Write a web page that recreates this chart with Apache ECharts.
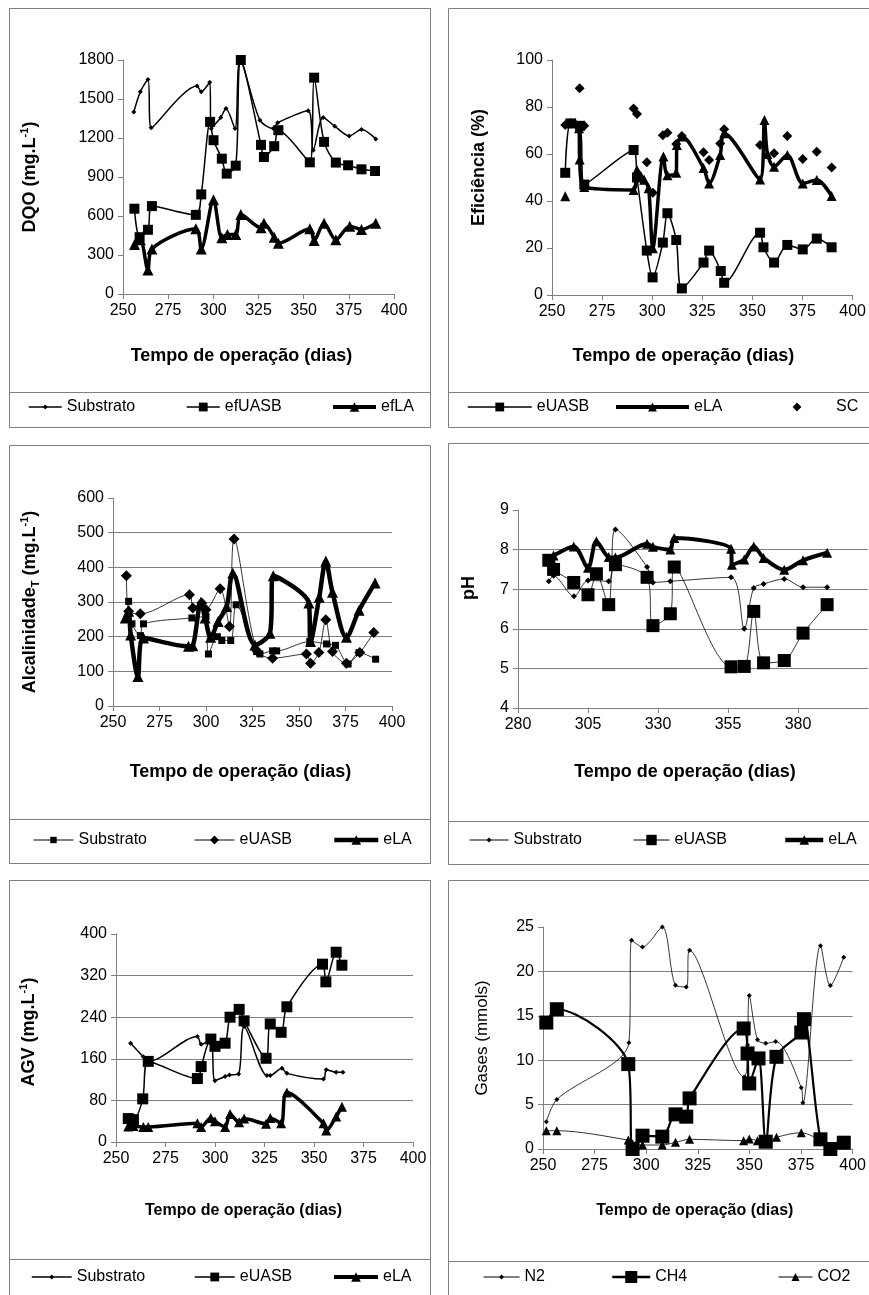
<!DOCTYPE html>
<html><head><meta charset="utf-8">
<script src="https://cdn.jsdelivr.net/npm/echarts@6/dist/echarts.min.js"></script>
<style>html,body{margin:0;padding:0;background:#fff}#c{width:869px;height:1295px}</style>
</head><body><div id="c"></div>
<script>
const FONT = '"Liberation Sans", Arial, Helvetica, sans-serif';

// ---------- Panel 1: DQO ----------
const p1SubDays = [256, 259.6, 263.8, 265.6, 291, 293.3, 298, 298.8, 304.1, 307, 312, 314.8, 325.8, 333.2, 335.6, 352.5, 355.3, 360.8, 367.2, 375.2, 382, 389.9];
const p1SubVals = [1400, 1556, 1650, 1278, 1600, 1556, 1628, 1273, 1358, 1427, 1273, 1800, 1337, 1273, 1317, 1409, 1106, 1358, 1291, 1216, 1265, 1193];
const p1UasbDays = [256.3, 259.2, 263.8, 266, 290.3, 293.3, 298.2, 300.1, 304.7, 307.4, 312.4, 315.2, 326.4, 328, 333.7, 336, 353.4, 355.8, 361.3, 367.8, 374.6, 382, 389.5];
const p1UasbVals = [656, 437, 494, 676, 609, 766, 1324, 1183, 1041, 926, 987, 1800, 1147, 1054, 1137, 1260, 1013, 1664, 1170, 1011, 990, 959, 946];
const p1LaDays = [256.4, 259.6, 263.8, 266, 290.3, 293.3, 300.1, 304.7, 307.8, 312.4, 315.2, 326.4, 328, 333.7, 336, 353.4, 355.8, 361.3, 367.8, 375.5, 382, 389.9];
const p1LaVals = [381, 417, 185, 347, 501, 347, 725, 432, 458, 458, 612, 509, 545, 437, 391, 501, 411, 545, 417, 522, 496, 545];

// ---------- Panel 2: Eficiência ----------
const p2UasbDays = [256.6, 259.2, 264, 266.1, 290.7, 292.4, 297.3, 300.2, 305.3, 307.6, 312, 314.8, 325.6, 328.4, 334.2, 335.9, 353.8, 355.5, 360.8, 367.4, 375.1, 382.1, 389.5];
const p2UasbVals = [52, 73, 72, 47, 61.7, 50, 18.9, 7.5, 22.3, 34.8, 23.4, 2.8, 13.8, 18.9, 10.2, 5.2, 26.5, 20.3, 13.8, 21.3, 19.4, 24, 20.3];
const p2LaDays = [256.6, 258, 259.1, 261.6, 263.5, 263.8, 266.1, 290.7, 292.4, 296, 298.2, 300.3, 305.6, 307.6, 312, 312.3, 314.8, 325.6, 328.4, 333.9, 335.9, 353.8, 356, 357.5, 360.8, 367.4, 375.1, 382.1, 389.5];
const p2LaVals = [42, null, 73.3, 73.3, 71, 57.7, 46, 44.7, 53.2, 49, 45.4, 19.9, 58.9, 51, 52, 63.8, 67.4, 54, 47.5, 59.6, 68.8, 49.2, 74.5, 60, 54.6, 59.6, 47.5, 48.9, 42.1];
const p2ScDays = [256.6, 259.2, 263.3, 263.8, 266.1, 290.7, 292.4, 297.3, 300.3, 305.3, 307.6, 312, 314.8, 325.6, 328.4, 333.9, 335.9, 353.8, 360.8, 367.4, 375.1, 382.1, 389.5];
const p2ScVals = [72.3, 73, 71.5, 88, 72, 79.4, 77, 56.5, 43.5, 68, 69, 64.3, 67.7, 60.7, 57.4, 64.5, 70.5, 63.8, 60.3, 67.7, 57.9, 61, 54.3];

// ---------- Panel 3: Alcalinidade ----------
const p3SubDays = [258.4, 260.2, 264.7, 266.4, 292.4, 300, 301.3, 306.1, 308.5, 313.3, 316.2, 327.2, 329, 335.8, 338, 355.8, 364.8, 369.6, 376.4, 382.3, 391.2];
const p3SubVals = [302, 237, 203, 237, 254, 258, 150, 200, 189, 189, 292, 157, 150, 159, 159, 186, 179, 175, 121, 154, 135];
const p3UasbDays = [257.2, 258.4, 264.7, 291.1, 292.9, 297.7, 300, 307.6, 312.6, 315.1, 327.2, 335.8, 354, 356.2, 360.7, 364.4, 368, 375.5, 382.7, 390.2];
const p3UasbVals = [376, 273, 266, 321, 283, 297, 278, 338, 229, 482, 160, 138, 150, 123, 154, 249, 157, 123, 154, 212];
const p3LaDays = [256.6, 258.4, 259.5, 263.4, 266.4, 290.6, 292.9, 297.2, 299.5, 302.5, 306.5, 311.1, 314.4, 326.3, 334.4, 336.2, 355.3, 356.2, 360.9, 364.4, 368, 375.5, 382.3, 390.9];
const p3LaVals = [254, 273, 205, 85, 196, 172, 174, 299, 254, 198, 244, 287, 384, 176, 210, 376, 297, 186, 314, 418, 328, 198, 276, 355];

// ---------- Panel 4: pH ----------
const p4XTicks = [280, 305, 330, 355, 380];
const p4SubDays = [291, 292.7, 300, 305, 312.4, 314.8, 326.1, 328.2, 334.4, 356.1, 360.8, 364.2, 367.7, 375.1, 381.8, 390.4];
const p4SubVals = [7.2, 7.34, 6.82, 7.22, 7.2, 8.51, 7.56, 7.17, 7.2, 7.3, 6.0, 7.03, 7.13, 7.26, 7.05, 7.05];
const p4UasbDays = [291, 292.7, 299.9, 305, 308, 312.4, 314.8, 326.1, 328.2, 334.4, 335.8, 356.1, 360.8, 364.2, 367.7, 375.1, 381.8, 390.4];
const p4UasbVals = [7.73, 7.5, 7.17, 6.86, 7.39, 6.61, 7.62, 7.3, 6.08, 6.38, 7.56, 5.04, 5.05, 6.44, 5.14, 5.2, 5.89, 6.61];
const p4LaDays = [291, 292.7, 299.9, 305, 308, 312.4, 314.8, 326.1, 328.2, 334.4, 335.8, 356.1, 356.4, 360.8, 364.2, 367.7, 375.1, 381.8, 390.4];
const p4LaVals = [7.76, 7.85, 8.08, 7.54, 8.21, 7.81, 7.8, 8.15, 8.07, 8.0, 8.29, 8.02, 7.62, 7.75, 8.08, 7.79, 7.49, 7.73, 7.92];

// ---------- Panel 5: AGV ----------
const p5SubDays = [257.4, 263.8, 266.3, 291.1, 293, 297.9, 300, 305.1, 307.3, 311.9, 314.7, 326.2, 327.9, 333.8, 336.3, 354.8, 356.2, 361.2, 364.6];
const p5SubVals = [190, 164, 155, 203, 188, 195, 118, 126, 129, 131, 222, 128, 128, 142, 132, 121, 139, 134, 134];
const p5UasbDays = [256.2, 258.8, 263.5, 266.3, 291.1, 293, 297.9, 300, 305.1, 307.6, 312.2, 314.7, 325.8, 327.9, 333.4, 336.3, 354.3, 356, 361.2, 364.1];
const p5UasbVals = [45, 43, 83, 155, 122, 145, 198, 184, 190, 240, 255, 233, 161, 227, 211, 260, 342, 308, 365, 340];
const p5LaDays = [256.2, 258.8, 263.8, 266.3, 291.1, 293, 297.9, 300, 305.1, 307.6, 312.2, 314.7, 325.8, 327.9, 333.4, 336.3, 354.8, 356.2, 361.2, 364.1];
const p5LaVals = [30, 31, 29, 29, 36, 29, 46, 40, 29, 54, 38, 45, 35, 46, 36, 95, 36, 22, 49, 68];

// ---------- Panel 6: Gases ----------
const p6N2Days = [251.6, 256.7, 291.6, 292.9, 298.2, 307.8, 314.2, 319.4, 321, 347.5, 349.1, 349.9, 353.9, 357.9, 362.7, 375.1, 375.9, 384.4, 389.2, 395.7];
const p6N2Vals = [3.07, 5.58, 11.96, 23.5, 22.75, 25.0, 18.44, 18.25, 22.38, 8.1, 11.7, 17.3, 12.3, 11.9, 12.1, 6.9, 5.2, 22.9, 18.4, 21.6];
const p6Ch4Days = [251.6, 256.7, 291.3, 293.4, 298.2, 307.8, 314.2, 319.4, 321, 347.2, 349.1, 349.9, 354.4, 357.9, 363.1, 375.1, 376.4, 384.4, 389.2, 395.7];
const p6Ch4Vals = [14.24, 15.74, 9.56, 0, 1.5, 1.39, 3.9, 3.64, 5.7, 13.57, 10.76, 7.38, 10.2, 0.82, 10.38, 13.12, 14.62, 1.09, 0, 0.71];
const p6Co2Days = [251.6, 256.7, 291.3, 293.4, 298.2, 307.8, 314.2, 321, 347.2, 349.9, 353.9, 357.9, 363.1, 375.1, 384.4];
const p6Co2Vals = [2.06, 2.06, 1.0, 0.6, 0.45, 0.45, 0.75, 1.09, 0.94, 1.12, 0.94, 0.64, 1.31, 1.84, 1.0];

function pairs(d, v) { return d.map((x, i) => [x, v[i] === null ? '-' : v[i]]); }

function ln(name, gi, days, vals, sym, size, width, smooth, hideLine) {
  return {
    type: 'line', name, xAxisIndex: gi, yAxisIndex: gi,
    data: pairs(days, vals), symbol: sym, symbolSize: size, showAllSymbol: true,
    smooth: smooth === undefined ? 0.3 : smooth, connectNulls: false,
    lineStyle: hideLine ? {color: '#000', width: 0, opacity: 0} : {color: '#000', width},
    itemStyle: {color: '#000'}, emphasis: {disabled: true}
  };
}

const GRAY = '#808080';
const plain = v => String(v);
function xAx(gi, min, max, name, gap, padR, fs, extra) {
  return Object.assign({
    type: 'value', gridIndex: gi, min, max, interval: 25,
    name, nameLocation: 'middle', nameGap: gap,
    nameTextStyle: {fontSize: fs, fontWeight: 'bold', color: '#000', fontFamily: FONT, padding: [0, padR, 0, 0]},
    axisLine: {show: true, onZero: false, lineStyle: {color: GRAY, width: 1}},
    axisTick: {show: true, length: 5, lineStyle: {color: GRAY}},
    axisLabel: {fontSize: 16, color: '#000', margin: 9, fontFamily: FONT, formatter: plain},
    splitLine: {show: false}
  }, extra || {});
}
function richStyle(fs, weight) {
  return {
    b: {fontSize: fs, fontWeight: weight, color: '#000', fontFamily: FONT, lineHeight: 22},
    sup: {fontSize: 11, fontWeight: weight, color: '#000', fontFamily: FONT, verticalAlign: 'top', lineHeight: 12},
    sub: {fontSize: 11, fontWeight: weight, color: '#000', fontFamily: FONT, verticalAlign: 'bottom', lineHeight: 12}
  };
}
function yAx(gi, min, max, interval, name, gap, split, fs, weight, padL) {
  return {
    type: 'value', gridIndex: gi, min, max, interval,
    name, nameLocation: 'middle', nameGap: gap, nameRotate: 90,
    nameTextStyle: {fontSize: fs, fontWeight: weight, color: '#000', fontFamily: FONT, rich: richStyle(fs, weight), padding: [0, 0, 0, padL || 0]},
    axisLine: {show: true, lineStyle: {color: GRAY, width: 1}},
    axisTick: {show: true, length: 5, lineStyle: {color: GRAY}},
    axisLabel: {fontSize: 16, color: '#000', margin: 9, fontFamily: FONT, formatter: plain},
    splitLine: {show: split, showMaxLine: false, lineStyle: {color: GRAY, width: 1}}
  };
}

function lg(name, left, top, w, h, lw) {
  return {
    data: [name], left, top, itemWidth: w, itemHeight: h, selectedMode: false, padding: 0,
    formatter: n => n.split('_')[1],
    lineStyle: lw === 0 ? {width: 0, opacity: 0} : {width: lw, color: '#000'},
    textStyle: {fontSize: 16, color: '#000', fontFamily: FONT, lineHeight: 18}
  };
}

const option = {
  animation: false,
  backgroundColor: '#fff',
  textStyle: {fontFamily: FONT},
  grid: [
    {left: 123, top: 60, width: 271, height: 234},
    {left: 552, top: 60, width: 301, height: 235},
    {left: 113, top: 498, width: 279, height: 208},
    {left: 518, top: 510, width: 350, height: 198},
    {left: 116, top: 934, width: 297, height: 208},
    {left: 543, top: 927, width: 311, height: 222}
  ],
  xAxis: [
    xAx(0, 250, 400, 'Tempo de operação (dias)', 53, 34, 18),
    xAx(1, 250, 400, 'Tempo de operação (dias)', 52, 38, 18),
    xAx(2, 250, 400, 'Tempo de operação (dias)', 57, 24, 18),
    xAx(3, 280, 405, 'Tempo de operação (dias)', 55, 16, 18, {
      axisLabel: {fontSize: 16, color: '#000', margin: 9, fontFamily: FONT, customValues: p4XTicks, formatter: plain},
      axisTick: {show: true, length: 5, lineStyle: {color: GRAY}, customValues: p4XTicks}
    }),
    xAx(4, 250, 400, 'Tempo de operação (dias)', 61, 42, 16),
    xAx(5, 250, 400, 'Tempo de operação (dias)', 54, 6, 16)
  ],
  yAxis: [
    yAx(0, 0, 1800, 300, '{b|DQO (mg.L}{sup|-1}{b|)}', 82, false, 18, 'bold'),
    yAx(1, 0, 100, 20, 'Eficiência (%)', 64, false, 18, 'bold', 20),
    yAx(2, 0, 600, 100, '{b|Alcalinidade}{sub|T}{b| (mg.L}{sup|-1}{b|)}', 72, true, 18, 'bold'),
    yAx(3, 4, 9, 1, 'pH', 40, true, 18, 'bold', 42),
    yAx(4, 0, 400, 80, '{b|AGV (mg.L}{sup|-1}{b|)}', 76, true, 18, 'bold', 12),
    yAx(5, 0, 25, 5, 'Gases (mmols)', 52, true, 17, 'normal')
  ],
  legend: [
    lg('p1_Substrato', 28, 398, 33, 6, 1.5),
    lg('p1_efUASB', 186, 398, 33, 11, 1.5),
    lg('p1_efLA', 331, 398, 43, 12, 4),
    lg('p2_eUASB', 467, 398, 64, 11, 1.5),
    lg('p2_eLA', 614, 398, 73, 11, 4),
    lg('p2_SC', 763, 398, 68, 11, 0),
    lg('p3_Substrato', 33, 831, 40, 8, 1),
    lg('p3_eUASB', 194, 831, 40, 11, 1),
    lg('p3_eLA', 332, 831, 44, 12, 4.5),
    lg('p4_Substrato', 469, 831, 39, 6, 1),
    lg('p4_eUASB', 633, 831, 36, 13, 1),
    lg('p4_eLA', 783, 831, 38, 12, 4.5),
    lg('p5_Substrato', 31, 1268, 40, 6, 1.5),
    lg('p5_eUASB', 194, 1268, 40, 11, 1.5),
    lg('p5_eLA', 332, 1268, 44, 12, 4),
    lg('p6_N2', 483, 1268, 36, 6, 1),
    lg('p6_CH4', 611, 1268, 38, 15, 2.5),
    lg('p6_CO2', 778, 1268, 34, 10, 1)
  ],
  graphic: [
    {type: 'rect', silent: true, shape: {x: 9.5, y: 8.5, width: 421, height: 419}, style: {fill: 'none', stroke: GRAY, lineWidth: 1}},
    {type: 'line', silent: true, shape: {x1: 9.5, y1: 392.5, x2: 430.5, y2: 392.5}, style: {stroke: GRAY, lineWidth: 1}},
    {type: 'rect', silent: true, shape: {x: 448.5, y: 8.5, width: 440, height: 419}, style: {fill: 'none', stroke: GRAY, lineWidth: 1}},
    {type: 'line', silent: true, shape: {x1: 448.5, y1: 392.5, x2: 869, y2: 392.5}, style: {stroke: GRAY, lineWidth: 1}},
    {type: 'rect', silent: true, shape: {x: 9.5, y: 445.5, width: 421, height: 418}, style: {fill: 'none', stroke: GRAY, lineWidth: 1}},
    {type: 'line', silent: true, shape: {x1: 9.5, y1: 819.5, x2: 430.5, y2: 819.5}, style: {stroke: GRAY, lineWidth: 1}},
    {type: 'rect', silent: true, shape: {x: 448.5, y: 443.5, width: 440, height: 421}, style: {fill: 'none', stroke: GRAY, lineWidth: 1}},
    {type: 'line', silent: true, shape: {x1: 448.5, y1: 821.5, x2: 869, y2: 821.5}, style: {stroke: GRAY, lineWidth: 1}},
    {type: 'rect', silent: true, shape: {x: 9.5, y: 880.5, width: 421, height: 440}, style: {fill: 'none', stroke: GRAY, lineWidth: 1}},
    {type: 'line', silent: true, shape: {x1: 9.5, y1: 1259.5, x2: 430.5, y2: 1259.5}, style: {stroke: GRAY, lineWidth: 1}},
    {type: 'rect', silent: true, shape: {x: 448.5, y: 880.5, width: 440, height: 440}, style: {fill: 'none', stroke: GRAY, lineWidth: 1}},
    {type: 'line', silent: true, shape: {x1: 448.5, y1: 1261.5, x2: 869, y2: 1261.5}, style: {stroke: GRAY, lineWidth: 1}}
  ],
  series: [
    ln('p1_Substrato', 0, p1SubDays, p1SubVals, 'diamond', 5, 1.5),
    ln('p1_efUASB', 0, p1UasbDays, p1UasbVals, 'rect', 10, 1.5),
    ln('p1_efLA', 0, p1LaDays, p1LaVals, 'triangle', 11, 3.5),

    ln('p2_eUASB', 1, p2UasbDays, p2UasbVals, 'rect', 10, 1.5),
    ln('p2_eLA', 1, p2LaDays, p2LaVals, 'triangle', 10, 3.5),
    ln('p2_SC', 1, p2ScDays, p2ScVals, 'diamond', 10, 0, 0, true),

    ln('p3_Substrato', 2, p3SubDays, p3SubVals, 'rect', 7, 0.8),
    ln('p3_eUASB', 2, p3UasbDays, p3UasbVals, 'diamond', 11, 0.8),
    ln('p3_eLA', 2, p3LaDays, p3LaVals, 'triangle', 11, 4.5),

    ln('p4_Substrato', 3, p4SubDays, p4SubVals, 'diamond', 6, 0.8),
    ln('p4_eUASB', 3, p4UasbDays, p4UasbVals, 'rect', 13, 0.8),
    ln('p4_eLA', 3, p4LaDays, p4LaVals, 'triangle', 10, 4),

    ln('p5_Substrato', 4, p5SubDays, p5SubVals, 'diamond', 5, 1.5),
    ln('p5_eUASB', 4, p5UasbDays, p5UasbVals, 'rect', 11, 1.5),
    ln('p5_eLA', 4, p5LaDays, p5LaVals, 'triangle', 10, 3.5),

    ln('p6_N2', 5, p6N2Days, p6N2Vals, 'diamond', 5, 0.8),
    ln('p6_CH4', 5, p6Ch4Days, p6Ch4Vals, 'rect', 14, 2.2),
    ln('p6_CO2', 5, p6Co2Days, p6Co2Vals, 'triangle', 9, 0.8)
  ]
};

const chart = echarts.init(document.getElementById('c'), null, {renderer: 'canvas'});
chart.setOption(option);
</script></body></html>
